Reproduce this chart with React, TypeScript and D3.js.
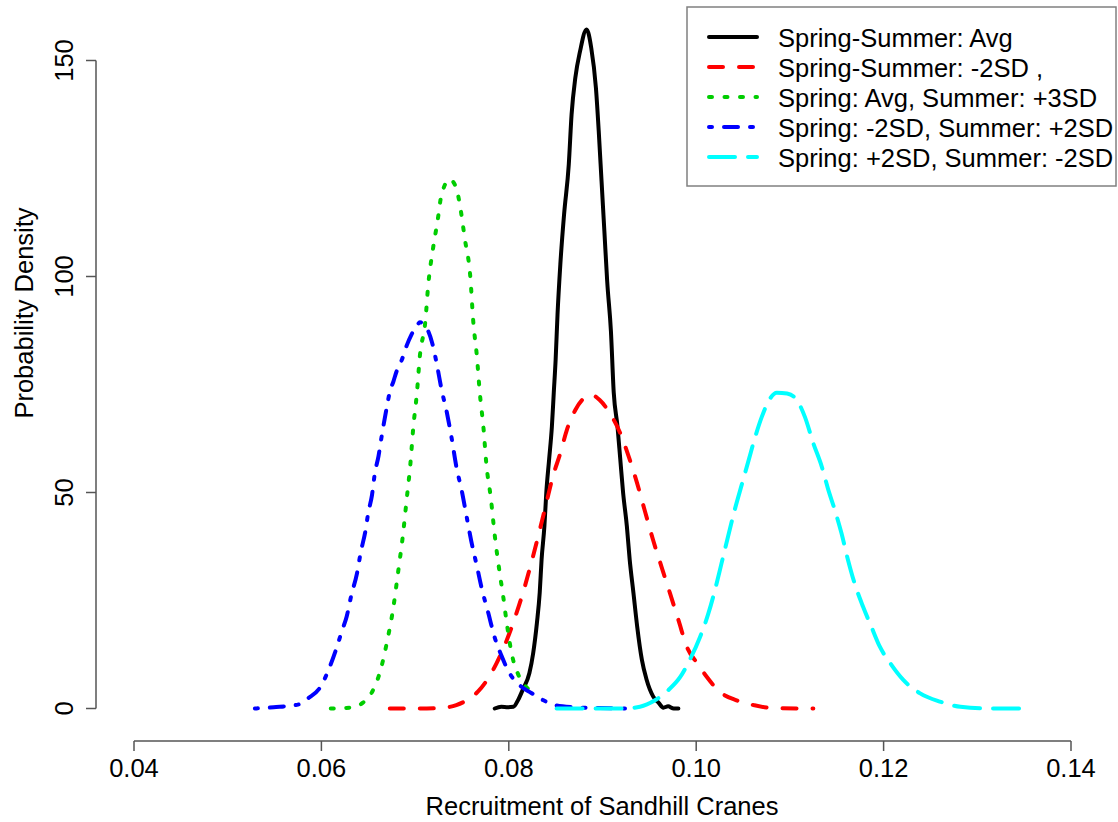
import React from "react";
import * as d3 from "d3";

// ---- Data ----
const avgX = [0.0785, 0.0792, 0.0799, 0.0805, 0.0810, 0.0815, 0.0822, 0.0826, 0.0830, 0.0833, 0.0835, 0.0838, 0.0840, 0.0843, 0.0846, 0.0848, 0.0850, 0.0852, 0.0855, 0.0859, 0.0864, 0.0867, 0.0871, 0.0876, 0.0883, 0.0888, 0.0893, 0.0896, 0.0899, 0.0902, 0.0905, 0.0909, 0.0912, 0.0916, 0.0919, 0.0922, 0.0926, 0.0929, 0.0933, 0.0937, 0.0942, 0.0947, 0.0954, 0.0960, 0.0965, 0.0970, 0.0976, 0.0981];
const avgY = [0, 0.4, 0.3, 0.4, 2, 4.4, 8.2, 12.8, 19.8, 26.8, 34.5, 42.2, 49.9, 57.6, 65.3, 73.1, 80.8, 91.2, 102.8, 114.4, 125.9, 137.5, 146, 152.1, 157.2, 152.9, 143.6, 133.6, 122, 110.5, 98.9, 87.3, 73.1, 65.3, 57.6, 49.9, 42.2, 34.5, 26.8, 19, 11.3, 6.7, 2.8, 1.3, 0.2, 0.5, 0, 0];

const minus2X = [0.0673, 0.0705, 0.0727, 0.0744, 0.0755, 0.0767, 0.0778, 0.0787, 0.0798, 0.0807, 0.0815, 0.0824, 0.0833, 0.0840, 0.0847, 0.0855, 0.0862, 0.0871, 0.0880, 0.0888, 0.0897, 0.0908, 0.0919, 0.0928, 0.0937, 0.0945, 0.0954, 0.0963, 0.0972, 0.0981, 0.0990, 0.1001, 0.1011, 0.1025, 0.1043, 0.1061, 0.1082, 0.1125];
const minus2Y = [0, 0, 0.1, 0.8, 1.9, 3.9, 7, 10.5, 15.9, 21.3, 26.7, 33.7, 41.3, 47.5, 53.7, 59.1, 64.5, 69.1, 71.8, 72.6, 71.4, 68.3, 63.7, 58.3, 52.1, 45.9, 39, 32.8, 26.7, 20.5, 14.3, 10.5, 7.4, 3.9, 1.9, 0.8, 0.1, 0];

const plus3X = [0.0610, 0.0631, 0.0644, 0.0654, 0.0663, 0.0670, 0.0677, 0.0682, 0.0687, 0.0691, 0.0695, 0.0698, 0.0702, 0.0705, 0.0711, 0.0714, 0.0719, 0.0724, 0.0728, 0.0737, 0.0744, 0.0748, 0.0753, 0.0759, 0.0762, 0.0766, 0.0769, 0.0773, 0.0776, 0.0781, 0.0785, 0.0790, 0.0794, 0.0798, 0.0803, 0.0810, 0.0817, 0.0826];
const plus3Y = [0, 0.2, 1.3, 3.8, 8.8, 15.4, 23.7, 31.8, 40.1, 48.4, 56.7, 64.9, 73.2, 81.4, 89.8, 98, 106.3, 112.9, 118.7, 122.5, 120.4, 116.3, 108.8, 99.7, 89.8, 81.4, 73.2, 64.9, 56.7, 48.4, 40.1, 31.8, 26, 19.5, 12.8, 7.9, 5.4, 3.8];

const lowSpringX = [0.0529, 0.0549, 0.0575, 0.0586, 0.0599, 0.0606, 0.0616, 0.0622, 0.0627, 0.0632, 0.0638, 0.0642, 0.0647, 0.0650, 0.0654, 0.0657, 0.0661, 0.0664, 0.0670, 0.0673, 0.0677, 0.0680, 0.0686, 0.0691, 0.0696, 0.0702, 0.0705, 0.0712, 0.0718, 0.0723, 0.0728, 0.0734, 0.0739, 0.0744, 0.0750, 0.0755, 0.0760, 0.0766, 0.0771, 0.0778, 0.0785, 0.0792, 0.0801, 0.0812, 0.0824, 0.0837, 0.0851, 0.0870, 0.0897, 0.0924];
const lowSpringY = [0, 0.3, 0.9, 2.4, 5, 8.1, 13.9, 18, 21.3, 26.3, 31.3, 36.2, 41.1, 45.3, 49.4, 54.4, 58.5, 62.6, 70, 73.3, 75.8, 77.9, 80.8, 84, 86.5, 88.6, 89.4, 88.2, 84.8, 79.9, 74.1, 68.4, 62.6, 56, 50.2, 44.4, 38.7, 32.9, 27.9, 22.2, 16.4, 12.3, 8.1, 5.3, 3.6, 1.9, 0.7, 0.3, 0.1, 0];

const highSpringX = [0.0851, 0.0922, 0.0940, 0.0956, 0.0970, 0.0983, 0.0993, 0.1004, 0.1013, 0.1020, 0.1027, 0.1034, 0.1041, 0.1049, 0.1056, 0.1063, 0.1070, 0.1079, 0.1086, 0.1097, 0.1106, 0.1116, 0.1125, 0.1134, 0.1141, 0.1148, 0.1155, 0.1162, 0.1169, 0.1178, 0.1187, 0.1196, 0.1207, 0.1221, 0.1239, 0.1260, 0.1282, 0.1314, 0.1358];
const highSpringY = [0, 0, 0.4, 1.9, 4.2, 7.3, 11.2, 16.5, 22, 27.4, 33.6, 39.8, 45.9, 52.1, 57.5, 62.9, 67.5, 71.8, 73.1, 72.9, 71.8, 67.5, 61.4, 56, 50.6, 45.9, 40.6, 34.4, 29, 23.6, 18.9, 14.3, 10.5, 6.6, 3.5, 1.6, 0.4, 0, 0];

const seriesNames = [
  "Spring-Summer: Avg",
  "Spring-Summer: -2SD ,",
  "Spring: Avg, Summer: +3SD",
  "Spring: -2SD, Summer: +2SD",
  "Spring: +2SD, Summer: -2SD",
];
const seriesColors = ["#000000", "#FF0000", "#00CD00", "#0000FF", "#00FFFF"];
const seriesDash = ["", "14 16", "3 12.5", "3 12 14 12", "26 13"];
const seriesXs = [avgX, minus2X, plus3X, lowSpringX, highSpringX];
const seriesYs = [avgY, minus2Y, plus3Y, lowSpringY, highSpringY];

const xTicks = [0.04, 0.06, 0.08, 0.1, 0.12, 0.14];
const xTickLabels = ["0.04", "0.06", "0.08", "0.10", "0.12", "0.14"];
const yTicks = [0, 50, 100, 150];
const yTickLabels = ["0", "50", "100", "150"];

const xTitle = "Recruitment of Sandhill Cranes";
const yTitle = "Probability Density";

export default function App() {
  const W = 1118;
  const H = 822;
  const font = "'Liberation Sans', Arial, sans-serif";
  const fs = 25.5;
  const axisColor = "#555555";

  const x = d3.scaleLinear().domain([0.04, 0.14]).range([134, 1071]);
  const y = d3.scaleLinear().domain([0, 150]).range([708.5, 60.5]);

  const line = d3
    .line<[number, number]>()
    .x((d) => x(d[0]))
    .y((d) => y(d[1]))
    .curve(d3.curveMonotoneX);

  const yAxisX = 96;
  const xAxisY = 741;

  const legX = 687;
  const legY = 7;
  const legW = 429;
  const legH = 179;

  return (
    <svg
      width={W}
      height={H}
      style={{ position: "absolute", left: 0, top: 0, background: "#fff" }}
      fontFamily={font}
    >
      <rect x={0} y={0} width={W} height={H} fill="#fff" />

      {/* curves */}
      {seriesXs.map((xs, i) => {
        const pts: [number, number][] = xs.map((v, j) => [v, seriesYs[i][j]]);
        return (
          <path
            key={i}
            d={line(pts) || ""}
            fill="none"
            stroke={seriesColors[i]}
            strokeWidth={4}
            strokeDasharray={seriesDash[i] || undefined}
            strokeLinecap="round"
            strokeLinejoin="round"
          />
        );
      })}

      {/* y axis */}
      <line x1={yAxisX} x2={yAxisX} y1={y(0)} y2={y(150)} stroke={axisColor} strokeWidth={1.5} />
      {yTicks.map((t, i) => (
        <g key={t}>
          <line x1={yAxisX - 10} x2={yAxisX} y1={y(t)} y2={y(t)} stroke={axisColor} strokeWidth={1.5} />
          <text
            transform={`translate(73,${y(t)}) rotate(-90)`}
            textAnchor="middle"
            fontSize={fs}
            fill="#000"
          >
            {yTickLabels[i]}
          </text>
        </g>
      ))}
      <text
        transform={`translate(33,313) rotate(-90)`}
        textAnchor="middle"
        fontSize={fs}
        fill="#000"
      >
        {yTitle}
      </text>

      {/* x axis */}
      <line x1={x(0.04)} x2={x(0.14)} y1={xAxisY} y2={xAxisY} stroke={axisColor} strokeWidth={1.5} />
      {xTicks.map((t, i) => (
        <g key={t}>
          <line x1={x(t)} x2={x(t)} y1={xAxisY} y2={xAxisY + 10} stroke={axisColor} strokeWidth={1.5} />
          <text x={x(t)} y={777} textAnchor="middle" fontSize={fs} fill="#000">
            {xTickLabels[i]}
          </text>
        </g>
      ))}
      <text x={602} y={815} textAnchor="middle" fontSize={fs} fill="#000">
        {xTitle}
      </text>

      {/* legend */}
      <rect x={legX} y={legY} width={legW} height={legH} fill="#fff" stroke="#808080" strokeWidth={1.5} />
      {seriesNames.map((name, i) => {
        const cy = 37 + i * 30;
        return (
          <g key={name}>
            <line
              x1={709}
              x2={757}
              y1={cy}
              y2={cy}
              stroke={seriesColors[i]}
              strokeWidth={4}
              strokeDasharray={seriesDash[i] || undefined}
              strokeLinecap="round"
            />
            <text x={778} y={cy + 9.5} fontSize={fs} fill="#000">
              {name}
            </text>
          </g>
        );
      })}
    </svg>
  );
}
